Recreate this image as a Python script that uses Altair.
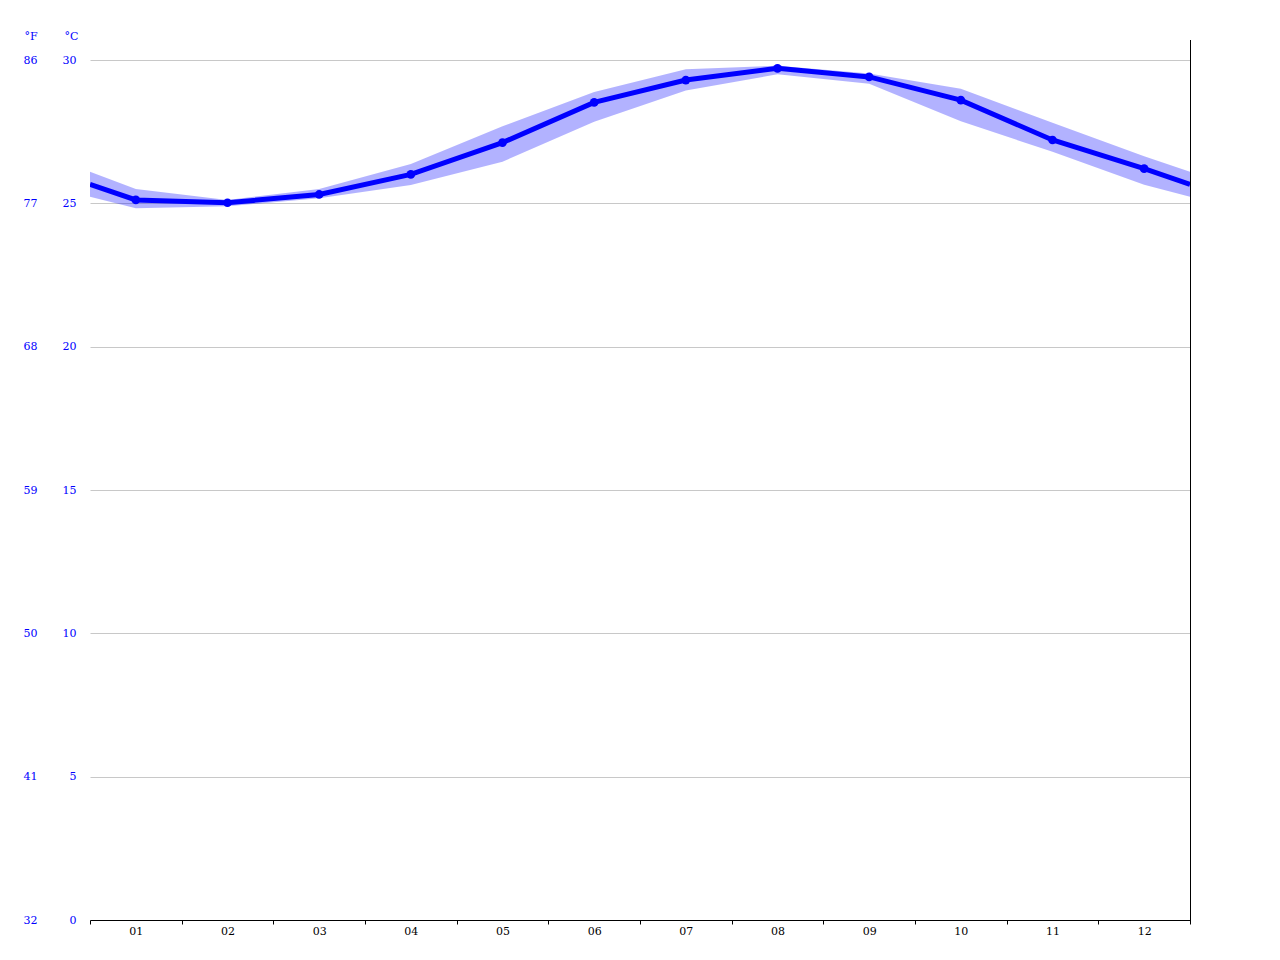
import altair as alt
import pandas as pd

months = ["01", "02", "03", "04", "05", "06", "07", "08", "09", "10", "11", "12"]
mean_c = [25.12, 25.02, 25.31, 26.01, 27.12, 28.52, 29.30, 29.71, 29.41, 28.60, 27.21, 26.21]
high_c = [25.50, 25.12, 25.50, 26.37, 27.69, 28.88, 29.68, 29.80, 29.53, 29.00, 27.81, 26.64]
low_c = [24.83, 24.90, 25.18, 25.64, 26.45, 27.85, 28.94, 29.50, 29.17, 27.86, 26.80, 25.65]
# values where the curves meet the left/right edges of the plot
edge_mean = 25.66
edge_high = 26.10
edge_low = 25.23

rows = [{"x": 0.5, "mean": edge_mean, "high": edge_high, "low": edge_low, "pt": False}]
for i, m in enumerate(months):
    rows.append({"x": i + 1, "mean": mean_c[i], "high": high_c[i], "low": low_c[i], "pt": True})
rows.append({"x": 12.5, "mean": edge_mean, "high": edge_high, "low": edge_low, "pt": False})
df = pd.DataFrame(rows)
df["mean_f"] = df["mean"] * 1.8 + 32

FONT = "DejaVu Serif"
BLUE = "#0000ff"
TOP_C = 30.698

xvals = [0.5 + 0.5 * k for k in range(25)]
xaxis = alt.Axis(
    values=xvals,
    labelExpr="datum.value % 1 == 0 ? (datum.value < 10 ? '0' + datum.value : '' + datum.value) : ''",
    tickOpacity={"condition": {"test": "datum.value % 1 == 0", "value": 0}, "value": 1},
    tickSize=4, tickColor="black", domainColor="black", labelColor="black",
    labelFont=FONT, labelFontSize=11, labelPadding=1, labelOverlap=False,
    labelFlush=False, grid=False, title=None,
)
xenc = alt.X("x:Q", scale=alt.Scale(domain=[0.5, 12.5], nice=False, zero=False), axis=xaxis)

caxis = alt.Axis(
    values=[0, 5, 10, 15, 20, 25, 30], grid=True, gridColor="#c8c8c8", domain=False,
    ticks=False, labelColor=BLUE, labelFont=FONT, labelFontSize=11, labelPadding=14,
    title="°C", titleAngle=0, titleX=-26, titleY=-1, titleAlign="left",
    titleBaseline="alphabetic", titleColor=BLUE, titleFont=FONT, titleFontSize=11,
    titleFontWeight="normal", orient="left",
)
cscale = alt.Scale(domain=[0, TOP_C], nice=False, zero=True)

base = alt.Chart(df)
band = base.mark_area(color=BLUE, opacity=0.3, clip=True).encode(
    x=xenc, y=alt.Y("low:Q", scale=cscale, axis=caxis), y2="high:Q"
)
line = base.mark_line(color=BLUE, strokeWidth=5, clip=True).encode(
    x=xenc, y=alt.Y("mean:Q", scale=cscale, axis=caxis)
)
pts = base.transform_filter("datum.pt").mark_circle(color=BLUE, opacity=1, size=75).encode(
    x=xenc, y=alt.Y("mean:Q", scale=cscale, axis=caxis)
)
rule = base.mark_rule(color="black", strokeWidth=1).encode(
    x=alt.value(1100.5), y=alt.value(0), y2=alt.value(884)
)
c_layers = alt.layer(band, line, pts, rule)

faxis = alt.Axis(
    values=[32, 41, 50, 59, 68, 77, 86], grid=False, domain=False, ticks=False,
    labelColor=BLUE, labelFont=FONT, labelFontSize=11, labelPadding=53,
    title="°F", titleAngle=0, titleX=-66, titleY=-1, titleAlign="left",
    titleBaseline="alphabetic", titleColor=BLUE, titleFont=FONT, titleFontSize=11,
    titleFontWeight="normal", orient="left",
)
f_layer = base.mark_point(opacity=0).encode(
    x=xenc,
    y=alt.Y("mean_f:Q", scale=alt.Scale(domain=[32, 32 + TOP_C * 1.8], nice=False, zero=False), axis=faxis),
)

chart = alt.layer(c_layers, f_layer).resolve_scale(y="independent").properties(
    width=1100, height=880,
    autosize=alt.AutoSizeParams(type="none"),
    padding={"left": 82, "top": 32, "right": 80, "bottom": 30},
    background="white",
).configure_view(stroke=None, strokeWidth=0)

chart.save("out.html", embed_options={"renderer": "svg", "actions": False})
